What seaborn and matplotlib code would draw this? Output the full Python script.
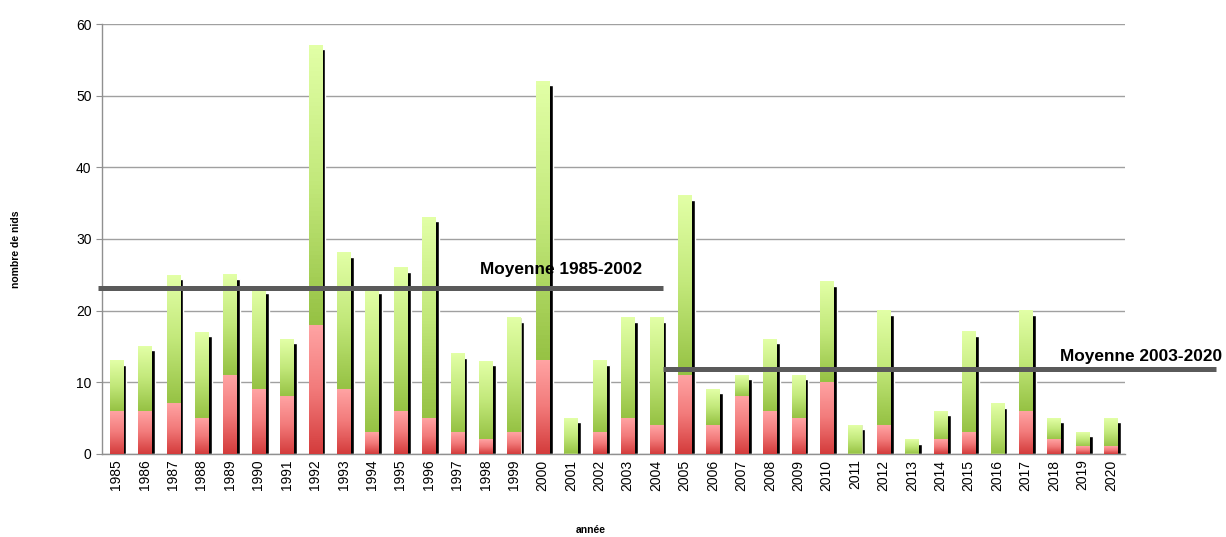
import matplotlib
matplotlib.use("Agg")
import matplotlib.pyplot as plt
import matplotlib.colors as mcolors
import numpy as np
import pandas as pd
import seaborn as sns

# data
years = [str(y) for y in range(1985, 2021)]
total_nests = [13, 15, 25, 17, 25, 23, 16, 57, 28, 23, 26, 33, 14, 13, 19, 52, 5, 13,
               19, 19, 36, 9, 11, 16, 11, 24, 4, 20, 2, 6, 17, 7, 20, 5, 3, 5]
red_nests = [6, 6, 7, 5, 11, 9, 8, 18, 9, 3, 6, 5, 3, 2, 3, 13, 0, 3,
             5, 4, 11, 4, 8, 6, 5, 10, 0, 4, 0, 2, 3, 0, 6, 2, 1, 1]
mean_labels = ["Moyenne 1985-2002", "Moyenne 2003-2020"]
mean_values = [23.2, 11.8]

df = pd.DataFrame({"annee": years, "total": total_nests, "rouge": red_nests})
df["ombre"] = (df["total"] - 0.55).clip(lower=0)

sns.set_style("white")
plt.rcParams["font.family"] = ["Liberation Sans", "DejaVu Sans"]
plt.rcParams["text.color"] = "black"
plt.rcParams["xtick.color"] = "black"
plt.rcParams["ytick.color"] = "black"

fig = plt.figure(figsize=(12.26, 5.37), dpi=100)
ax = fig.add_axes([0.0832, 0.1546, 0.8344, 0.8007])

bar_w = 0.46
n = len(df)

# black shadow, shifted to the right
sns.barplot(data=df, x="annee", y="ombre", color="black", width=bar_w,
            saturation=1, ax=ax, zorder=2)
for p in ax.patches[:n]:
    p.set_x(p.get_x() + 0.13)

sns.barplot(data=df, x="annee", y="total", color="#b8e070", width=bar_w,
            saturation=1, ax=ax, zorder=3)
sns.barplot(data=df, x="annee", y="rouge", color="#f07070", width=bar_w,
            saturation=1, ax=ax, zorder=4)

# vertical gradient on each segment (light at top, darker at bottom)
green_cmap = mcolors.LinearSegmentedColormap.from_list("g", ["#96c244", "#c2e87a", "#e2ffa6"])
red_cmap = mcolors.LinearSegmentedColormap.from_list("r", ["#d43c3c", "#f27a7a", "#ffa3a3"])
grad = np.linspace(0, 1, 64).reshape(-1, 1)
green_patches = ax.patches[n:2 * n]
red_patches = ax.patches[2 * n:3 * n]
for p, r in zip(green_patches, df["rouge"]):
    x0, w, h = p.get_x(), p.get_width(), p.get_height()
    if h > r:
        ax.imshow(grad, cmap=green_cmap, origin="lower", aspect="auto",
                  extent=[x0, x0 + w, r, h], zorder=3.5)
    p.set_facecolor("none")
    p.set_edgecolor("#d8e8b0")
    p.set_linewidth(0.6)
for p in red_patches:
    x0, w, h = p.get_x(), p.get_width(), p.get_height()
    if h > 0:
        ax.imshow(grad, cmap=red_cmap, origin="lower", aspect="auto",
                  extent=[x0, x0 + w, 0, h], zorder=4.5)
        p.set_edgecolor("#f4c0c0")
        p.set_linewidth(0.6)
    p.set_facecolor("none")

ax.set_xlim(-0.5, n - 0.5)
ax.set_ylim(0, 60)
ax.set_yticks(range(0, 61, 10))
ax.yaxis.grid(True, color="#a0a0a0", linewidth=1)
ax.set_axisbelow(True)

# mean lines
ax.plot([-0.64, 19.25], [mean_values[0]] * 2, color="#5a5a5a", linewidth=3.6,
        zorder=6, clip_on=False, solid_capstyle="butt")
ax.plot([19.25, 38.7], [mean_values[1]] * 2, color="#5a5a5a", linewidth=3.6,
        zorder=6, clip_on=False, solid_capstyle="butt")
ax.text(12.8, mean_values[0] + 1.9, mean_labels[0], fontsize=12.4, fontweight="bold",
        ha="left", va="baseline", zorder=7)
ax.text(33.2, mean_values[1] + 1.2, mean_labels[1], fontsize=12.4, fontweight="bold",
        ha="left", va="baseline", zorder=7, clip_on=False)

for s in ["top", "right"]:
    ax.spines[s].set_visible(False)
for s in ["left", "bottom"]:
    ax.spines[s].set_color("#909090")
    ax.spines[s].set_linewidth(1)

ax.set_xticks(np.arange(n))
ax.set_xticklabels(years, rotation=90, fontsize=10)
ax.tick_params(axis="x", length=0, pad=4)
ax.set_xticks(np.arange(-0.5, n, 1), minor=True)
ax.tick_params(axis="x", which="minor", length=4, color="#909090", direction="out")
ax.tick_params(axis="y", labelsize=10, length=4, color="#909090", direction="out", left=True)

ax.set_xlabel("")
ax.set_ylabel("")
fig.text(0.013, 0.535, "nombre de nids", rotation=90, fontsize=7.5, fontweight="bold",
         ha="center", va="center")
fig.text(0.482, 0.013, "année", fontsize=7.5, fontweight="bold", ha="center", va="center")

fig.savefig("out.png", dpi=100)
